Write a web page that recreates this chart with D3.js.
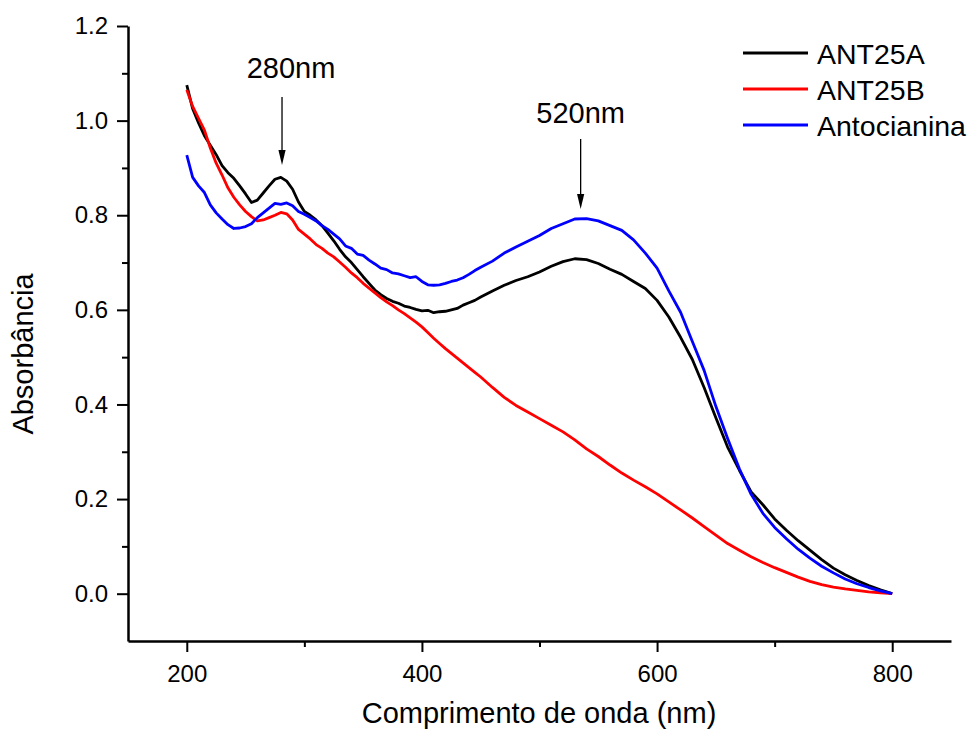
<!DOCTYPE html>
<html>
<head>
<meta charset="utf-8">
<script src="https://cdn.jsdelivr.net/npm/d3@7"></script>
<style>
  html, body { margin: 0; padding: 0; background: #fff; }
  svg { display: block; }
  text { font-family: "Liberation Sans", Arial, sans-serif; fill: #000; }
</style>
</head>
<body>
<svg id="chart" width="969" height="731"></svg>
<script>
// ---------- DATA ----------
const wavelengths = [
  200,205,210,215,220,225,230,235,240,245,250,255,260,265,270,275,280,285,290,295,
  300,305,310,315,320,325,330,335,340,345,350,355,360,365,370,375,380,385,390,395,
  400,405,410,415,420,425,430,435,440,445,450,
  460,470,480,490,500,510,520,530,540,550,560,570,580,590,600,
  610,620,630,640,650,660,670,680,690,700,710,720,730,740,750,760,770,780,790,800
];
const ant25a = [
  1.075,1.025,0.995,0.968,0.948,0.928,0.905,0.890,0.878,0.862,0.845,0.827,0.832,0.847,0.862,0.876,0.880,0.872,0.855,0.828,
  0.808,0.800,0.790,0.778,0.762,0.746,0.728,0.712,0.700,0.685,0.670,0.656,0.642,0.632,0.624,0.618,0.614,0.608,0.605,0.601,
  0.598,0.599,0.594,0.596,0.597,0.600,0.603,0.610,0.615,0.620,0.627,
  0.640,0.652,0.662,0.670,0.680,0.692,0.702,0.708,0.706,0.698,0.686,0.675,0.660,0.645,0.620,
  0.585,0.542,0.495,0.436,0.372,0.310,0.261,0.215,0.188,0.158,0.134,0.112,0.092,0.072,0.054,0.040,0.028,0.017,0.008,0.000
];
const ant25b = [
  1.065,1.030,1.005,0.980,0.942,0.910,0.885,0.858,0.838,0.822,0.808,0.797,0.788,0.790,0.795,0.800,0.806,0.803,0.790,0.770,
  0.760,0.750,0.738,0.730,0.720,0.712,0.701,0.690,0.678,0.668,0.656,0.646,0.636,0.626,0.617,0.609,0.600,0.592,0.583,0.574,
  0.564,0.552,0.540,0.529,0.518,0.508,0.498,0.488,0.478,0.468,0.458,
  0.436,0.415,0.398,0.384,0.370,0.356,0.342,0.325,0.306,0.290,0.272,0.255,0.240,0.226,0.211,
  0.194,0.177,0.160,0.142,0.124,0.106,0.092,0.078,0.066,0.055,0.045,0.035,0.026,0.019,0.014,0.010,0.007,0.004,0.002,0.000
];
const antocianina = [
  0.927,0.880,0.862,0.848,0.822,0.805,0.792,0.780,0.772,0.773,0.776,0.782,0.795,0.805,0.815,0.825,0.823,0.826,0.820,0.808,
  0.802,0.795,0.788,0.778,0.770,0.760,0.750,0.735,0.730,0.718,0.715,0.705,0.697,0.688,0.685,0.678,0.676,0.672,0.668,0.670,
  0.660,0.653,0.652,0.653,0.656,0.660,0.663,0.668,0.675,0.683,0.690,
  0.703,0.720,0.733,0.745,0.757,0.772,0.782,0.792,0.793,0.788,0.778,0.768,0.748,0.720,0.688,
  0.640,0.595,0.533,0.472,0.396,0.328,0.264,0.210,0.170,0.140,0.116,0.094,0.075,0.058,0.044,0.031,0.021,0.013,0.006,0.000
];
const seriesNames = ["ANT25A", "ANT25B", "Antocianina"];
const seriesColors = ["#000000", "#ff0000", "#0000ff"];
const xMajorTicks = [200, 400, 600, 800];
const xMinorTicks = [300, 500, 700];
const yMajorTicks = [0.0, 0.2, 0.4, 0.6, 0.8, 1.0, 1.2];
const yMinorTicks = [0.1, 0.3, 0.5, 0.7, 0.9, 1.1];
// annotations: arrow wavelength, tail value, tip value, label
const annotations = [
  { w: 281, tail: 1.050, tip: 0.906, label: "280nm", dx: 9, dy: -19 },
  { w: 535, tail: 0.961, tip: 0.813, label: "520nm", dx: 0, dy: -16 }
];

// ---------- CHART ----------
const svg = d3.select("#chart");
const x = d3.scaleLinear().domain([150, 850]).range([128, 951]);
const y = d3.scaleLinear().domain([-0.1, 1.2]).range([641, 26]);

const series = [ant25a, ant25b, antocianina];

// data lines
const line = d3.line()
  .x((d, i) => x(wavelengths[i]))
  .y(d => y(d));

series.forEach((vals, k) => {
  svg.append("path")
    .datum(vals)
    .attr("fill", "none")
    .attr("stroke", seriesColors[k])
    .attr("stroke-width", 2.8)
    .attr("stroke-linejoin", "round")
    .attr("d", line);
});

// axes
const xAxisG = svg.append("g").attr("transform", `translate(0,${y(-0.1)})`);
xAxisG.call(d3.axisBottom(x).tickValues(xMajorTicks).tickSize(11).tickSizeOuter(0).tickPadding(13).tickFormat(d3.format("d")));
const xMinorG = svg.append("g").attr("transform", `translate(0,${y(-0.1)})`);
xMinorG.call(d3.axisBottom(x).tickValues(xMinorTicks).tickSize(6).tickFormat(""));
xMinorG.select(".domain").remove();

const yAxisG = svg.append("g").attr("transform", `translate(${x(150)},0)`);
yAxisG.call(d3.axisLeft(y).tickValues(yMajorTicks).tickSize(11).tickSizeOuter(0).tickPadding(9).tickFormat(d3.format(".1f")));
const yMinorG = svg.append("g").attr("transform", `translate(${x(150)},0)`);
yMinorG.call(d3.axisLeft(y).tickValues(yMinorTicks).tickSize(6).tickFormat(""));
yMinorG.select(".domain").remove();

svg.selectAll(".domain").attr("stroke", "#000").attr("stroke-width", 2.5);
svg.selectAll(".tick line").attr("stroke", "#000").attr("stroke-width", 2);
svg.selectAll(".tick text")
  .style("font-family", '"Liberation Sans", Arial, sans-serif')
  .style("font-size", "24px")
  .attr("fill", "#000");

// axis titles
svg.append("text")
  .attr("x", 539).attr("y", 723)
  .attr("text-anchor", "middle")
  .style("font-size", "29px")
  .text("Comprimento de onda (nm)");
svg.append("text")
  .attr("transform", "translate(33,354) rotate(-90)")
  .attr("text-anchor", "middle")
  .style("font-size", "29px")
  .text("Absorbância");

// annotations
annotations.forEach(a => {
  const ax = x(a.w), y0 = y(a.tail), y1 = y(a.tip);
  const headLen = 15, headW = 3.6;
  svg.append("line")
    .attr("x1", ax).attr("x2", ax)
    .attr("y1", y0).attr("y2", y1 - headLen + 1)
    .attr("stroke", "#000").attr("stroke-width", 1.3);
  svg.append("path")
    .attr("d", `M${ax - headW},${y1 - headLen} L${ax + headW},${y1 - headLen} L${ax},${y1} Z`)
    .attr("fill", "#000");
  svg.append("text")
    .attr("x", ax + a.dx).attr("y", y0 + a.dy)
    .attr("text-anchor", "middle")
    .style("font-size", "29px")
    .text(a.label);
});

// legend
const legend = svg.append("g").attr("transform", "translate(743,53)");
seriesNames.forEach((name, k) => {
  const g = legend.append("g").attr("transform", `translate(0,${k * 36})`);
  g.append("line")
    .attr("x1", 0).attr("x2", 65).attr("y1", 0).attr("y2", 0)
    .attr("stroke", seriesColors[k]).attr("stroke-width", 3);
  g.append("text")
    .attr("x", 74).attr("y", 10.5)
    .style("font-size", "28.5px")
    .text(name);
});
</script>
</body>
</html>
